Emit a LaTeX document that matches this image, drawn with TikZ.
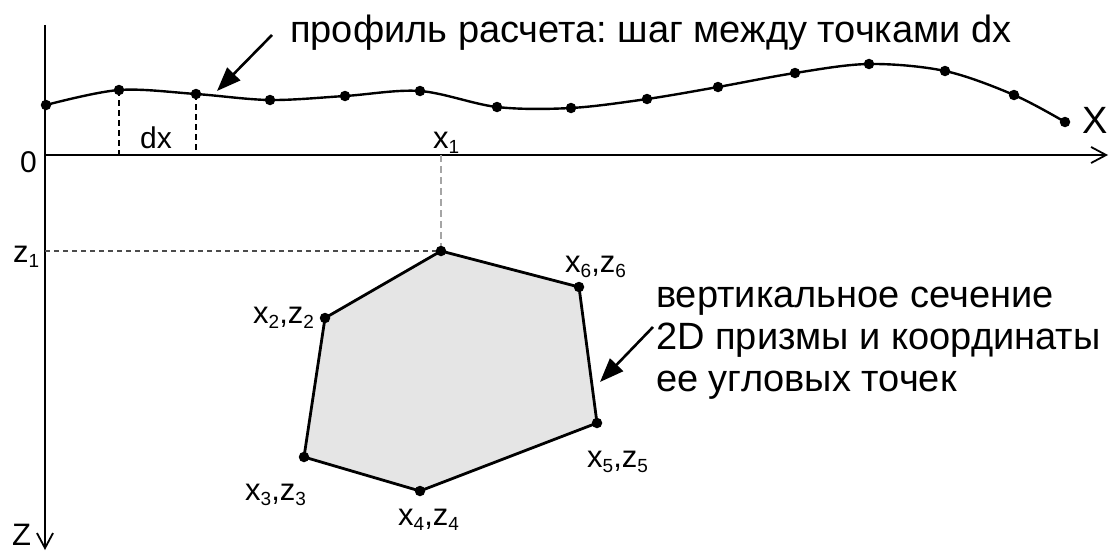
\documentclass[tikz,border=0pt]{standalone}
\usepackage{fontspec}
\setmainfont{Liberation Sans}
\usepackage{xcolor}
\definecolor{secFill}{RGB}{229,229,229}
\definecolor{guideDark}{RGB}{75,75,75}
\definecolor{guideLight}{RGB}{165,165,165}
\usetikzlibrary{arrows.meta,positioning}
\newcommand{\lsub}[1]{\raisebox{-5pt}{\fontsize{19}{19}\selectfont #1}}
\frenchspacing

\begin{document}
\begin{tikzpicture}[x=1pt, y=1pt,
    axis/.style={line width=1.8pt, -{Straight Barb[length=15pt, width=16pt]}},
    profile/.style={line width=2.4pt},
    dot/.style={circle, fill=black, inner sep=0pt, minimum size=10.5pt},
    tick/.style={line width=1.4pt, dash pattern=on 6pt off 4pt},
    guide/.style={line width=1.4pt, draw=guideDark, dash pattern=on 5pt off 4pt},
    faint/.style={line width=1.2pt, draw=guideLight, dash pattern=on 7pt off 4pt},
    section/.style={line width=2.8pt, fill=secFill, line join=round},
    callout/.style={line width=2.6pt, -{Triangle[length=24pt, width=18pt]}},
    caption/.style={inner sep=0pt, anchor=base west, font=\fontsize{38}{42}\selectfont, align=left},
    lbl/.style={inner sep=0pt, anchor=base west, font=\fontsize{31}{31}\selectfont}
  ]
    \useasboundingbox (0,0) rectangle (1110,-551);

    \coordinate (O) at (45,-155);
    \coordinate (xend) at (1108,-155);
    \coordinate (ztop) at (45,-25);
    \coordinate (zend) at (45,-550);
    \draw[axis] (O) -- (xend);
    \draw[axis] (ztop) -- (zend);
    \node[lbl, font=\fontsize{30}{30}\selectfont] (orig) at (20,-172) {0};
    \node[caption] (xlab) at (1082,-133) {X};
    \node[lbl] (zlab) at (12,-545) {Z};

    \foreach \px/\py [count=\i] in {46/105, 119/90, 196/94, 270/100, 345/96,
        420/91, 497/107, 571/108, 647/99, 718/87, 795/73, 869/64, 945/71,
        1014/95, 1065/122}
      \coordinate (p\i) at (\px,-\py);
    \draw[profile] plot[smooth, tension=0.55] coordinates {(p1) (p2) (p3) (p4)
      (p5) (p6) (p7) (p8) (p9) (p10) (p11) (p12) (p13) (p14) (p15)};
    \draw[tick] (p2) -- (p2 |- O);
    \draw[tick] (p3) -- (p3 |- O);
    \foreach \i in {1,...,15}
      \node[dot] (pd\i) at (p\i) {};
    \node[lbl, font=\fontsize{30}{30}\selectfont] (dx) at (140,-148) {dx};

    \node[caption] (title) at (290,-42) {профиль расчета: шаг между точками dx};
    \coordinate (tailA) at (272,-35);
    \coordinate (tipA) at (217,-91);
    \draw[callout] (tailA) -- (tipA);

    \foreach \vx/\vy [count=\i] in {441/251, 325/318, 304/457, 420/491, 597/423, 579/287}
      \coordinate (v\i) at (\vx,-\vy);
    \draw[faint] (v1 |- O) -- (v1);
    \draw[guide] (v1 -| O) -- (v1);
    \draw[section] (v1) -- (v2) -- (v3) -- (v4) -- (v5) -- (v6) -- cycle;
    \foreach \i in {1,...,6}
      \node[dot] (vd\i) at (v\i) {};

    \node[lbl] (x1lab) at (433,-148) {x\lsub{1}};
    \node[lbl] (z1lab) at (13,-262) {z\lsub{1}};
    \node[lbl] (lab2) at (253,-323) {x\lsub{2},z\lsub{2}};
    \node[lbl] (lab3) at (245,-500) {x\lsub{3},z\lsub{3}};
    \node[lbl] (lab4) at (398,-525) {x\lsub{4},z\lsub{4}};
    \node[lbl] (lab5) at (587,-467) {x\lsub{5},z\lsub{5}};
    \node[lbl] (lab6) at (565,-272) {x\lsub{6},z\lsub{6}};

    \node[caption] (note) at (656,-391) {вертикальное сечение\\2D призмы и координаты\\ее угловых точек};
    \coordinate (tailB) at (653,-327);
    \coordinate (tipB) at (600,-382);
    \draw[callout] (tailB) -- (tipB);
  \end{tikzpicture}
\end{document}
